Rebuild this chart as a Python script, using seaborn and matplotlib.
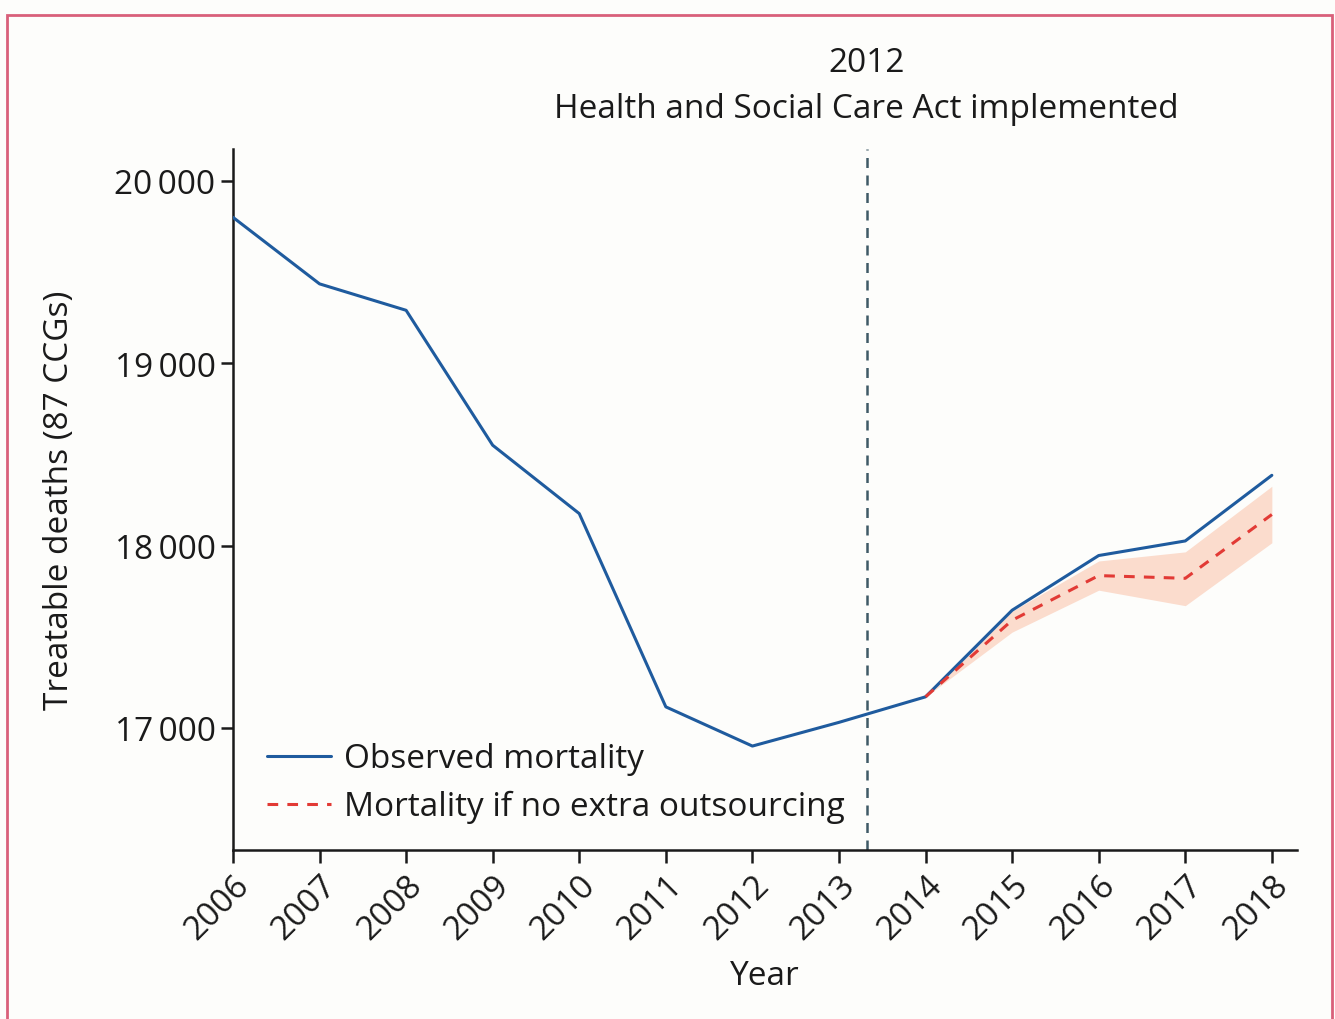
import numpy as np
import pandas as pd
import seaborn as sns
import matplotlib.pyplot as plt
from matplotlib.patches import Rectangle

years = [2006, 2007, 2008, 2009, 2010, 2011, 2012, 2013, 2014, 2015, 2016, 2017, 2018]
observed = [19800, 19435, 19290, 18550, 18175, 17115, 16900, 17030, 17170, 17645, 17945, 18025, 18385]

cf_years = [2014, 2015, 2016, 2017, 2018]
counterfactual = [17170, 17590, 17835, 17820, 18170]
cf_lower = [17170, 17525, 17755, 17670, 18015]
cf_upper = [17170, 17640, 17915, 17965, 18325]

act_year = 2013.32
ytick_vals = [17000, 18000, 19000, 20000]

sns.set_style("ticks")
plt.rcParams['font.family'] = ['Open Sans', 'DejaVu Sans']
FS = 24
INK = "#1a1a1a"

fig = plt.figure(figsize=(13.35, 10.2), dpi=100)
fig.patch.set_facecolor("#fdfdfb")
# pink frame around the figure
fig.patches.append(Rectangle((7 / 1335, -0.01), 1325 / 1335, 1.002 - 8 / 1020, transform=fig.transFigure,
                             fill=False, edgecolor="#d9607a", linewidth=2))
ax = fig.add_axes([0.1745, 0.1657, 0.797, 0.6873])
ax.set_facecolor("#fdfdfb")

obs_df = pd.DataFrame({"year": years, "deaths": observed})
cf_df = pd.DataFrame({"year": cf_years, "deaths": counterfactual})

ax.fill_between(cf_years, cf_lower, cf_upper, color="#fbdccd", linewidth=0, zorder=1)
sns.lineplot(data=obs_df, x="year", y="deaths", ax=ax, color="#1f5b9e", linewidth=2.2,
             label="Observed mortality", zorder=3)
sns.lineplot(data=cf_df, x="year", y="deaths", ax=ax, color="#e23a35", linewidth=2.2,
             linestyle=(0, (3.5, 3)), label="Mortality if no extra outsourcing", zorder=4)
ax.axvline(act_year, color="#3f5a66", linestyle=(0, (4, 3)), linewidth=1.8, zorder=2)

tr = ax.get_xaxis_transform()
ax.text(act_year, 1.124, "2012", transform=tr, ha="center", va="center", fontsize=FS, color=INK)
ax.text(act_year, 1.057, "Health and Social Care Act implemented", transform=tr,
        ha="center", va="center", fontsize=FS, color=INK)

ax.set_xlim(2006, 2018.29)
ax.set_ylim(16330, 20175)
ax.set_xticks(years)
ax.set_xticklabels([str(y) for y in years], rotation=45, ha="right", rotation_mode="anchor")
ax.set_yticks(ytick_vals)
ax.set_yticklabels([f"{v // 1000}\u2009{v % 1000:03d}" for v in ytick_vals])
ax.tick_params(axis="both", labelsize=FS, length=9, width=1.8, color=INK,
               labelcolor=INK, direction="out")
ax.tick_params(axis="x", pad=4)
ax.set_xlabel("Year", fontsize=FS, color=INK, labelpad=10)
ax.set_ylabel("Treatable deaths (87 CCGs)", fontsize=FS, color=INK, labelpad=28)
sns.despine(ax=ax)
for s in ["left", "bottom"]:
    ax.spines[s].set_linewidth(1.8)
    ax.spines[s].set_color(INK)

leg = ax.legend(loc="lower left", bbox_to_anchor=(0.004, -0.005), frameon=False, fontsize=FS,
                handlelength=1.9, handletextpad=0.4, labelspacing=0.45)
for t in leg.get_texts():
    t.set_color(INK)

fig.savefig("out.png", dpi=100, facecolor=fig.get_facecolor())
